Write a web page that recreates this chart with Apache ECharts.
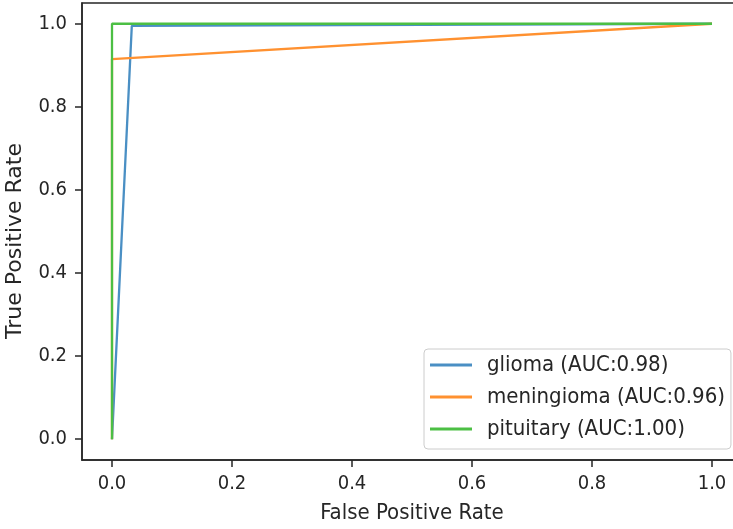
<!DOCTYPE html>
<html>
<head>
<meta charset="utf-8">
<script src="https://cdn.jsdelivr.net/npm/echarts@6/dist/echarts.min.js"></script>
<style>
  html, body {margin: 0; padding: 0; background: #fff;}
  #chart {width: 733px; height: 529px;}
</style>
</head>
<body>
<div id="chart"></div>
<script>
// ROC curves, one per tumour class. Each curve is [fpr, tpr] points.
const classNames = ["glioma (AUC:0.98)", "meningioma (AUC:0.96)", "pituitary (AUC:1.00)"]
const fprGlioma = [0, 0.033, 1]
const tprGlioma = [0, 0.995, 1]
const fprMeningioma = [0, 0, 1]
const tprMeningioma = [0, 0.915, 1]
const fprPituitary = [0, 0, 1]
const tprPituitary = [0, 1, 1]
const tickValues = [0, 0.2, 0.4, 0.6, 0.8, 1.0]

const FONT = "'DejaVu Sans Condensed', 'DejaVu Sans', sans-serif"
const INK = "#262626"
const COLORS = ["#4a8fc4", "#ff9130", "#4cbf44"]

const pairs = (xs, ys) => xs.map((x, i) => [x, ys[i]])

const axisCommon = {
  type: "value",
  min: -0.05,
  max: 1.05,
  axisLine: {show: true, onZero: false, lineStyle: {color: INK, width: 1.5}},
  axisTick: {show: true, length: 7, lineStyle: {color: INK, width: 1.5}, customValues: tickValues},
  axisLabel: {color: INK, fontFamily: FONT, fontSize: 20, margin: 14,
    customValues: tickValues, formatter: v => v.toFixed(1)},
  splitLine: {show: false},
  nameLocation: "middle",
  nameTextStyle: {color: INK, fontFamily: FONT, fontSize: 22},
}

const chart = echarts.init(document.getElementById("chart"), null, {renderer: "canvas"})

// the plot box runs past the right edge of the picture, as in the original
chart.setOption({
  animation: false,
  grid: {left: 82, top: 3, width: 660, height: 457, show: true,
    outerBoundsMode: "none", containLabel: false,
    borderColor: INK, borderWidth: 1.5, backgroundColor: "transparent"},
  xAxis: {
    ...axisCommon,
    name: "False Positive Rate",
    nameGap: 42,
  },
  yAxis: {
    ...axisCommon,
    name: "True Positive Rate",
    nameGap: 56,
    axisLabel: {...axisCommon.axisLabel, margin: 15},
    nameTextStyle: {...axisCommon.nameTextStyle, fontFamily: "'DejaVu Sans', sans-serif",
      padding: [0, 19, 0, 0]},
  },
  legend: {
    orient: "vertical",
    left: 424,
    top: 349,
    icon: "rect",
    itemWidth: 42,
    itemHeight: 3,
    itemGap: 8,
    padding: [4, 6, 8, 6],
    backgroundColor: "rgba(255,255,255,0.8)",
    borderColor: "#cccccc",
    borderWidth: 1,
    borderRadius: 4,
    textStyle: {color: INK, fontFamily: FONT, fontSize: 22, lineHeight: 24, padding: [0, 0, 0, 10]},
    data: classNames,
  },
  series: [
    {name: classNames[0], type: "line", data: pairs(fprGlioma, tprGlioma)},
    {name: classNames[1], type: "line", data: pairs(fprMeningioma, tprMeningioma)},
    {name: classNames[2], type: "line", data: pairs(fprPituitary, tprPituitary)},
  ].map((s, i) => ({
    ...s,
    showSymbol: false,
    symbol: "none",
    color: COLORS[i],
    lineStyle: {color: COLORS[i], width: 2.3},
    z: 2 + i,
  })),
})
</script>
</body>
</html>
